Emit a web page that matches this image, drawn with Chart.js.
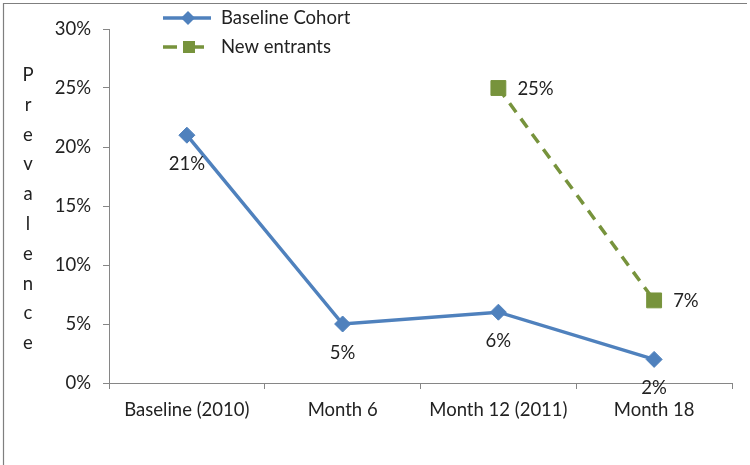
<!DOCTYPE html>
<html>
<head>
<meta charset="utf-8">
<script src="https://cdn.jsdelivr.net/npm/chart.js@4"></script>
<style>
  html, body { margin: 0; padding: 0; background: #fff; }
  #wrap { width: 750px; height: 465px; position: relative; }
</style>
</head>
<body>
<div id="wrap"><canvas id="prevChart"></canvas></div>
<script>
const categories = ['Baseline (2010)', 'Month 6', 'Month 12 (2011)', 'Month 18'];
const baselineCohort = [21, 5, 6, 2];
const newEntrants = [null, null, 25, 7];
const yTicks = [0, 5, 10, 15, 20, 25, 30];
const yTitle = 'Prevalence';

const FONT = 'Lato, "Open Sans", sans-serif';
const FS = 18.5;
const TEXT = '#222';
const AXIS = '#868686';
const BLUE = '#4F81BD';
const GREEN = '#77933C';

// frame + stacked axis title
const decor = {
  id: 'decor',
  beforeDraw(chart) {
    const c = chart.ctx;
    c.save();
    c.fillStyle = '#fff';
    c.fillRect(0, 0, chart.width, chart.height);
    c.strokeStyle = '#7f7f7f';
    c.lineWidth = 1.2;
    c.beginPath();
    c.moveTo(3.5, chart.height);
    c.lineTo(3.5, 3.5);
    c.lineTo(747, 3.5);
    c.stroke();
    c.restore();
  },
  afterDraw(chart) {
    const c = chart.ctx;
    c.save();
    c.font = FS + 'px ' + FONT;
    c.fillStyle = TEXT;
    c.textAlign = 'center';
    c.textBaseline = 'middle';
    yTitle.split('').forEach((ch, i) => c.fillText(ch, 28, 75 + i * 29.8));
    c.restore();
  }
};

// point value labels
const valueLabels = {
  id: 'valueLabels',
  afterDatasetsDraw(chart) {
    const c = chart.ctx;
    c.save();
    c.font = FS + 'px ' + FONT;
    c.fillStyle = TEXT;
    c.textBaseline = 'middle';
    chart.data.datasets.forEach((ds, i) => {
      chart.getDatasetMeta(i).data.forEach((pt, j) => {
        const v = ds.data[j];
        if (v == null) return;
        if (i === 0) {
          c.textAlign = 'center';
          c.fillText(v + '%', pt.x, pt.y + 29);
        } else {
          c.textAlign = 'left';
          c.fillText(v + '%', pt.x + 19, pt.y + 1);
        }
      });
    });
    c.restore();
  }
};

// vertical legend in top-left of plot
const sideLegend = {
  id: 'sideLegend',
  afterDraw(chart) {
    const c = chart.ctx;
    const ds = chart.data.datasets;
    c.save();
    c.font = FS + 'px ' + FONT;
    c.textBaseline = 'middle';
    c.textAlign = 'left';

    // Baseline Cohort
    let y = 18;
    c.strokeStyle = ds[0].borderColor;
    c.lineWidth = 3.5;
    c.beginPath(); c.moveTo(163, y); c.lineTo(211, y); c.stroke();
    c.fillStyle = ds[0].pointBackgroundColor;
    c.beginPath();
    c.moveTo(188, y - 7); c.lineTo(195, y); c.lineTo(188, y + 7); c.lineTo(181, y);
    c.closePath(); c.fill();
    c.fillStyle = TEXT;
    c.fillText(ds[0].label, 221, y);

    // New entrants
    y = 47;
    c.strokeStyle = ds[1].borderColor;
    c.lineWidth = 3.5;
    c.beginPath(); c.moveTo(163, y); c.lineTo(177, y); c.moveTo(195, y); c.lineTo(204, y); c.stroke();
    c.fillStyle = ds[1].pointBackgroundColor;
    c.fillRect(183, y - 6, 12, 12);
    c.fillStyle = TEXT;
    c.fillText(ds[1].label, 221, y);
    c.restore();
  }
};

new Chart(document.getElementById('prevChart'), {
  type: 'line',
  data: {
    labels: categories,
    datasets: [{
      label: 'Baseline Cohort',
      data: baselineCohort,
      borderColor: BLUE,
      borderWidth: 3.5,
      pointStyle: 'rectRot',
      pointRadius: 8,
      pointBorderWidth: 1,
      pointBackgroundColor: BLUE,
      pointBorderColor: BLUE,
      tension: 0
    }, {
      label: 'New entrants',
      data: newEntrants,
      borderColor: GREEN,
      borderWidth: 3.5,
      borderDash: [11, 8],
      pointStyle: 'rect',
      pointRadius: 10.5,
      pointBorderWidth: 1,
      pointBackgroundColor: GREEN,
      pointBorderColor: GREEN,
      spanGaps: false,
      tension: 0
    }]
  },
  options: {
    responsive: true,
    maintainAspectRatio: false,
    animation: false,
    layout: { padding: { left: 0, right: 18, top: 29, bottom: 0 } },
    plugins: {
      legend: { display: false },
      tooltip: { enabled: false }
    },
    scales: {
      x: {
        offset: true,
        afterFit: s => { s.height = 82; },
        grid: {
          offset: true,
          drawOnChartArea: false,
          drawTicks: true,
          tickLength: 6,
          color: AXIS
        },
        border: { color: AXIS, width: 1 },
        ticks: {
          color: TEXT,
          padding: 10,
          maxRotation: 0,
          font: { family: FONT, size: FS }
        }
      },
      y: {
        min: 0,
        max: 30,
        afterFit: s => { s.width = 109; },
        afterBuildTicks: s => { s.ticks = yTicks.map(v => ({ value: v })); },
        grid: {
          drawOnChartArea: false,
          drawTicks: true,
          tickLength: 6,
          color: AXIS
        },
        border: { color: AXIS, width: 1 },
        ticks: {
          color: TEXT,
          padding: 12,
          font: { family: FONT, size: FS },
          callback: v => v + '%'
        }
      }
    }
  },
  plugins: [decor, valueLabels, sideLegend]
});
</script>
</body>
</html>
